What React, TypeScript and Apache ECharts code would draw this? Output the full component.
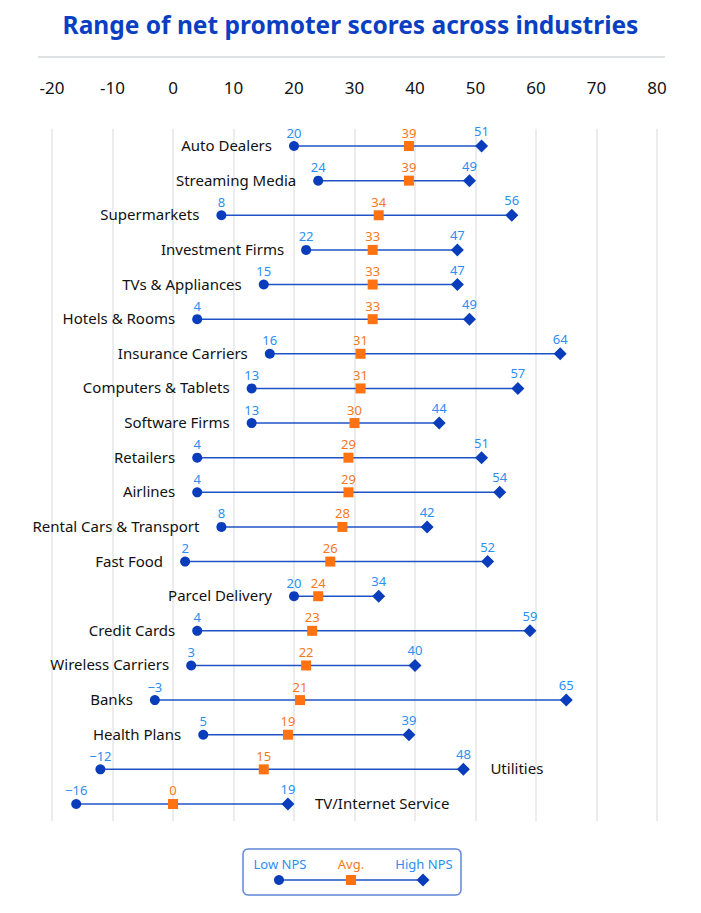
import React, { useEffect, useRef } from "react";
import * as echarts from "echarts";

const categories = [
  "Auto Dealers",
  "Streaming Media",
  "Supermarkets",
  "Investment Firms",
  "TVs & Appliances",
  "Hotels & Rooms",
  "Insurance Carriers",
  "Computers & Tablets",
  "Software Firms",
  "Retailers",
  "Airlines",
  "Rental Cars & Transport",
  "Fast Food",
  "Parcel Delivery",
  "Credit Cards",
  "Wireless Carriers",
  "Banks",
  "Health Plans",
  "Utilities",
  "TV/Internet Service",
];
const lowNps = [20, 24, 8, 22, 15, 4, 16, 13, 13, 4, 4, 8, 2, 20, 4, 3, -3, 5, -12, -16];
const avgNps = [39, 39, 34, 33, 33, 33, 31, 31, 30, 29, 29, 28, 26, 24, 23, 22, 21, 19, 15, 0];
const highNps = [51, 49, 56, 47, 47, 49, 64, 57, 44, 51, 54, 42, 52, 34, 59, 40, 65, 39, 48, 19];
const labelOnRight = ["Utilities", "TV/Internet Service"];

const FONT = "'Noto Sans', sans-serif";
const DARK_BLUE = "#0a3dbb";
const LINE_BLUE = "#1f52c6";
const LIGHT_BLUE = "#2b8ff2";
const ORANGE = "#ff7212";
const ORANGE_TEXT = "#f7781c";

export default function App() {
  const ref = useRef<HTMLDivElement>(null);
  useEffect(() => {
    document.body.style.margin = "0";
    const chart = echarts.init(ref.current!, null, { renderer: "svg" });
    const rangeData = categories.map((c, i) => [lowNps[i], i, highNps[i], labelOnRight.includes(c) ? 1 : 0]);
    const valueLabel = (color: string) => ({
      show: true,
      position: "top" as const,
      distance: 2,
      color,
      fontSize: 13,
      fontFamily: FONT,
      formatter: (p: any) => {
        const v = p.value[0];
        return v < 0 ? "\u2212" + Math.abs(v) : String(v);
      },
    });
    const option: any = {
      animation: false,
      textStyle: { fontFamily: FONT },
      grid: { left: 52, right: 44, top: 128.7, height: 692.6 },
      xAxis: {
        type: "value",
        min: -20,
        max: 80,
        interval: 10,
        position: "top",
        axisLine: { show: false },
        axisTick: { show: false },
        axisLabel: { color: "#111", fontSize: 17, margin: 33, fontFamily: FONT },
        splitLine: { lineStyle: { color: "#e3e6e9", width: 1.5 } },
      },
      yAxis: {
        type: "category",
        data: categories,
        inverse: true,
        show: false,
      },
      graphic: [
        { type: "text", left: "center", top: 12, style: { text: "Range of net promoter scores across industries", fill: "#0b3fc2", font: `bold 24.5px ${FONT}` } },
        { type: "line", shape: { x1: 38, y1: 57, x2: 665, y2: 57 }, style: { stroke: "#dde1e3", lineWidth: 2 } },
        { type: "rect", shape: { x: 243, y: 849, width: 218, height: 46, r: 5 }, style: { fill: "none", stroke: "#5f86d9", lineWidth: 1.5 } },
        { type: "line", shape: { x1: 279, y1: 880, x2: 423, y2: 880 }, style: { stroke: LINE_BLUE, lineWidth: 1.5 } },
        { type: "circle", shape: { cx: 279, cy: 880, r: 5 }, style: { fill: DARK_BLUE } },
        { type: "rect", shape: { x: 346, y: 875, width: 10, height: 10 }, style: { fill: ORANGE } },
        { type: "polygon", shape: { points: [[423, 873.5], [429.5, 880], [423, 886.5], [416.5, 880]] }, style: { fill: DARK_BLUE } },
        { type: "text", x: 280, y: 864, style: { text: "Low NPS", fill: LIGHT_BLUE, font: `13px ${FONT}`, align: "center", verticalAlign: "middle" } },
        { type: "text", x: 351, y: 864, style: { text: "Avg.", fill: ORANGE_TEXT, font: `13px ${FONT}`, align: "center", verticalAlign: "middle" } },
        { type: "text", x: 424, y: 864, style: { text: "High NPS", fill: LIGHT_BLUE, font: `13px ${FONT}`, align: "center", verticalAlign: "middle" } },
      ],
      series: [
        {
          type: "custom",
          z: 1,
          encode: { x: [0, 2], y: 1 },
          data: rangeData,
          renderItem: (params: any, api: any) => {
            const idx = api.value(1);
            const lo = api.coord([api.value(0), idx]);
            const hi = api.coord([api.value(2), idx]);
            const right = api.value(3) === 1;
            return {
              type: "group",
              children: [
                { type: "line", shape: { x1: lo[0], y1: lo[1], x2: hi[0], y2: hi[1] }, style: { stroke: LINE_BLUE, lineWidth: 1.5 } },
                {
                  type: "text",
                  x: right ? hi[0] + 27 : lo[0] - 22,
                  y: lo[1] - 1,
                  style: {
                    text: categories[idx],
                    fill: "#111",
                    font: `15px ${FONT}`,
                    align: right ? "left" : "right",
                    verticalAlign: "middle",
                  },
                },
              ],
            };
          },
        },
        {
          type: "scatter",
          z: 3,
          symbol: "circle",
          symbolSize: 10,
          itemStyle: { color: DARK_BLUE, opacity: 1 },
          data: lowNps.map((v, i) => [v, i]),
          label: valueLabel(LIGHT_BLUE),
        },
        {
          type: "scatter",
          z: 3,
          symbol: "rect",
          symbolSize: 10,
          itemStyle: { color: ORANGE, opacity: 1 },
          data: avgNps.map((v, i) => [v, i]),
          label: valueLabel(ORANGE_TEXT),
        },
        {
          type: "scatter",
          z: 3,
          symbol: "diamond",
          symbolSize: 13,
          itemStyle: { color: DARK_BLUE, opacity: 1 },
          data: highNps.map((v, i) => [v, i]),
          label: valueLabel(LIGHT_BLUE),
        },
      ],
    };
    chart.setOption(option);
    return () => chart.dispose();
  }, []);
  return <div ref={ref} style={{ width: 701, height: 913 }} />;
}
